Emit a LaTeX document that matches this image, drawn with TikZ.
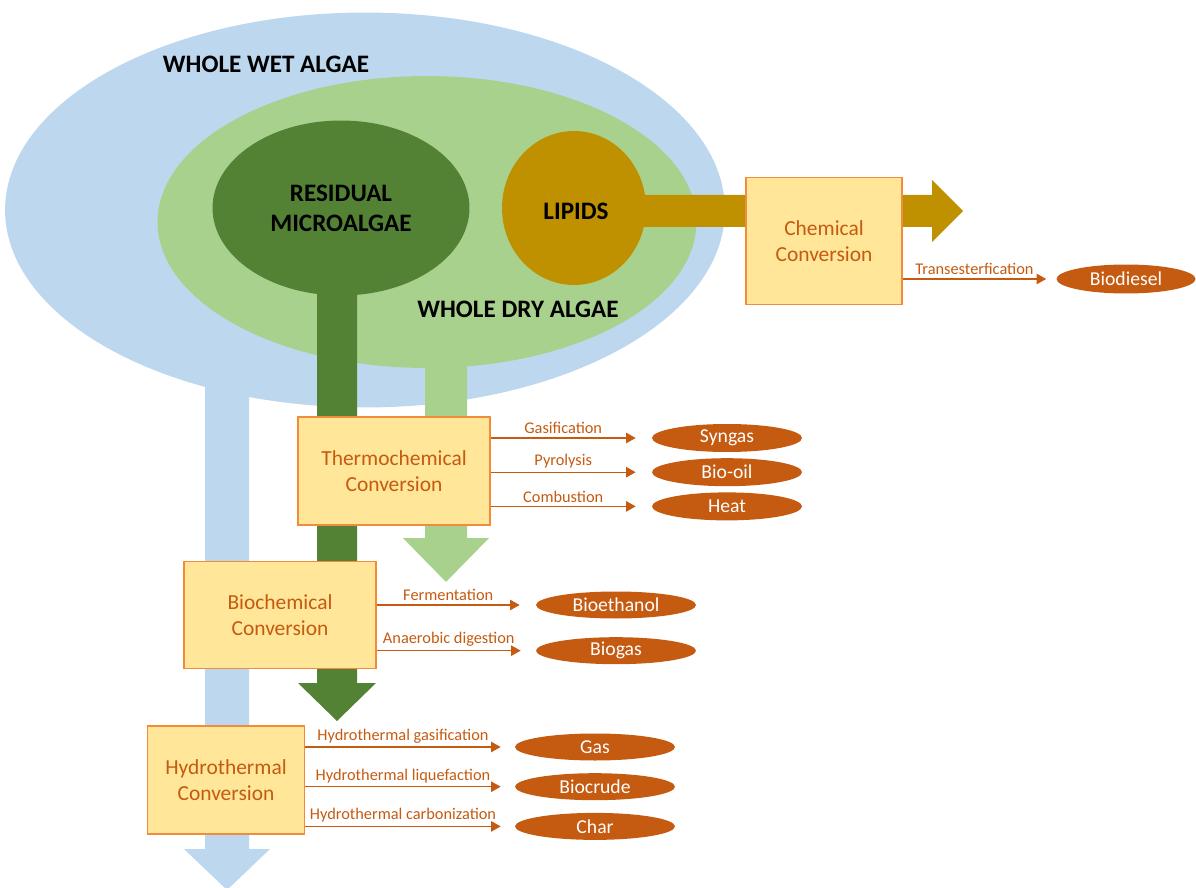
\documentclass[tikz,border=0pt]{standalone}
\usepackage{fontspec}
\setmainfont{Carlito}
\usetikzlibrary{arrows.meta}
\usetikzlibrary{positioning}
\usetikzlibrary{shapes.geometric}
\definecolor{wetblue}{HTML}{BDD7EE}
\definecolor{drygreen}{HTML}{A9D18E}
\definecolor{residgreen}{HTML}{548235}
\definecolor{lipidgold}{HTML}{BF9000}
\definecolor{convfill}{HTML}{FFE699}
\definecolor{convline}{HTML}{F08C3C}
\definecolor{prodorange}{HTML}{C55A11}
\tikzset{blob/.style = {ellipse, inner sep = 0, align = center, font = \fontsize{14.3}{17}\selectfont\bfseries}}
\tikzset{convbox/.style = {draw = convline, fill = convfill, line width = 0.9pt, align = center, text = prodorange, font = \fontsize{12.2}{14.8}\selectfont}}
\tikzset{product/.style = {ellipse, fill = prodorange, text = white, inner sep = 0, minimum width = 3cm, minimum height = 0.56cm, font = \fontsize{11.2}{13}\selectfont}}
\tikzset{process/.style = {draw = prodorange, line width = 0.6pt, -{Triangle[length = 5.5pt, width = 6pt]}}}
\tikzset{processlabel/.style = {midway, above, inner sep = 2pt, text = prodorange, font = \fontsize{9.3}{11}\selectfont}}

\begin{document}
\begin{tikzpicture}[x = 0.02cm, y = -0.02cm]
    \useasboundingbox (0, 0) rectangle (1196, 888);

    \node [blob, fill = wetblue, minimum width = 14.4cm, minimum height = 7.9cm] (wet) at (365, 210) {};
    \fill [wetblue] (205, 300) -- (205, 849) -- (184, 849) -- (227, 890) -- (270, 849) -- (249, 849) -- (249, 300) -- cycle;
    \node [blob, fill = drygreen, minimum width = 10.78cm, minimum height = 5.84cm] (dry) at (427, 222) {};
    \fill [drygreen] (425, 300) -- (425, 538) -- (403, 538) -- (446, 582) -- (489, 538) -- (467, 538) -- (467, 300) -- cycle;
    \node [blob, fill = residgreen, minimum width = 5.14cm, minimum height = 3.5cm] (resid) at (341, 208) {RESIDUAL\\MICROALGAE};
    \fill [residgreen] (317, 270) -- (317, 683) -- (298, 683) -- (337, 721) -- (376, 683) -- (357, 683) -- (357, 270) -- cycle;
    \node [blob, fill = lipidgold, minimum width = 2.88cm, minimum height = 3.08cm] (lipid) at (574, 208) {};
    \fill [lipidgold] (620, 195) -- (932, 195) -- (932, 180) -- (963, 211) -- (932, 242) -- (932, 227) -- (620, 227) -- cycle;
    \node [font = \fontsize{14.3}{17}\selectfont\bfseries] (lipidlabel) at (576, 211) {LIPIDS};

    \node [font = \fontsize{14.3}{17}\selectfont\bfseries] (wetlabel) at (266, 64) {WHOLE WET ALGAE};
    \node [font = \fontsize{14.3}{17}\selectfont\bfseries] (drylabel) at (518, 309) {WHOLE DRY ALGAE};

    \node [convbox, minimum width = 3.12cm, minimum height = 2.54cm] (chem) at (824, 241) {Chemical\\Conversion};
    \node [convbox, minimum width = 3.84cm, minimum height = 2.16cm] (thermo) at (394, 471) {Thermochemical\\Conversion};
    \node [convbox, minimum width = 3.84cm, minimum height = 2.14cm] (bio) at (280, 615) {Biochemical\\Conversion};
    \node [convbox, minimum width = 3.14cm, minimum height = 2.16cm] (hydro) at (226, 780) {Hydrothermal\\Conversion};

    \node [product, minimum width = 2.78cm, minimum height = 0.58cm] (diesel) at (1126, 279) {Biodiesel};
    \node [product] (syngas) at (727, 438) {Syngas};
    \node [product, below = 0.11cm of syngas] (biooil) {Bio-oil};
    \node [product, below = 0.11cm of biooil] (heat) {Heat};
    \node [product, minimum width = 3.2cm, minimum height = 0.54cm] (ethanol) at (616, 605) {Bioethanol};
    \node [product, minimum width = 3.2cm, minimum height = 0.54cm, below = 0.36cm of ethanol] (biogas) {Biogas};
    \node [product, minimum width = 3.2cm, minimum height = 0.54cm] (gas) at (595, 747) {Gas};
    \node [product, minimum width = 3.2cm, minimum height = 0.54cm, below = 0.24cm of gas] (biocrude) {Biocrude};
    \node [product, minimum width = 3.2cm, minimum height = 0.54cm, below = 0.24cm of biocrude] (char) {Char};

    \draw [process] (chem.east |- diesel) -- ([xshift = -0.2cm] diesel.west) node [processlabel] {Transesterfication};
    \draw [process] (thermo.east |- syngas) -- ([xshift = -0.32cm] syngas.west) node [processlabel] {Gasification};
    \draw [process] (thermo.east |- biooil) -- ([xshift = -0.32cm] biooil.west) node [processlabel] {Pyrolysis};
    \draw [process] (thermo.east |- heat) -- ([xshift = -0.32cm] heat.west) node [processlabel] {Combustion};
    \draw [process] (bio.east |- ethanol) -- ([xshift = -0.32cm] ethanol.west) node [processlabel] {Fermentation};
    \draw [process] (bio.east |- biogas) -- ([xshift = -0.3cm] biogas.west) node [processlabel] {Anaerobic digestion};
    \draw [process] (hydro.east |- gas) -- ([xshift = -0.28cm] gas.west) node [processlabel] {Hydrothermal gasification};
    \draw [process] (hydro.east |- biocrude) -- ([xshift = -0.28cm] biocrude.west) node [processlabel] {Hydrothermal liquefaction};
    \draw [process] (hydro.east |- char) -- ([xshift = -0.28cm] char.west) node [processlabel] {Hydrothermal carbonization};
\end{tikzpicture}
\end{document}
